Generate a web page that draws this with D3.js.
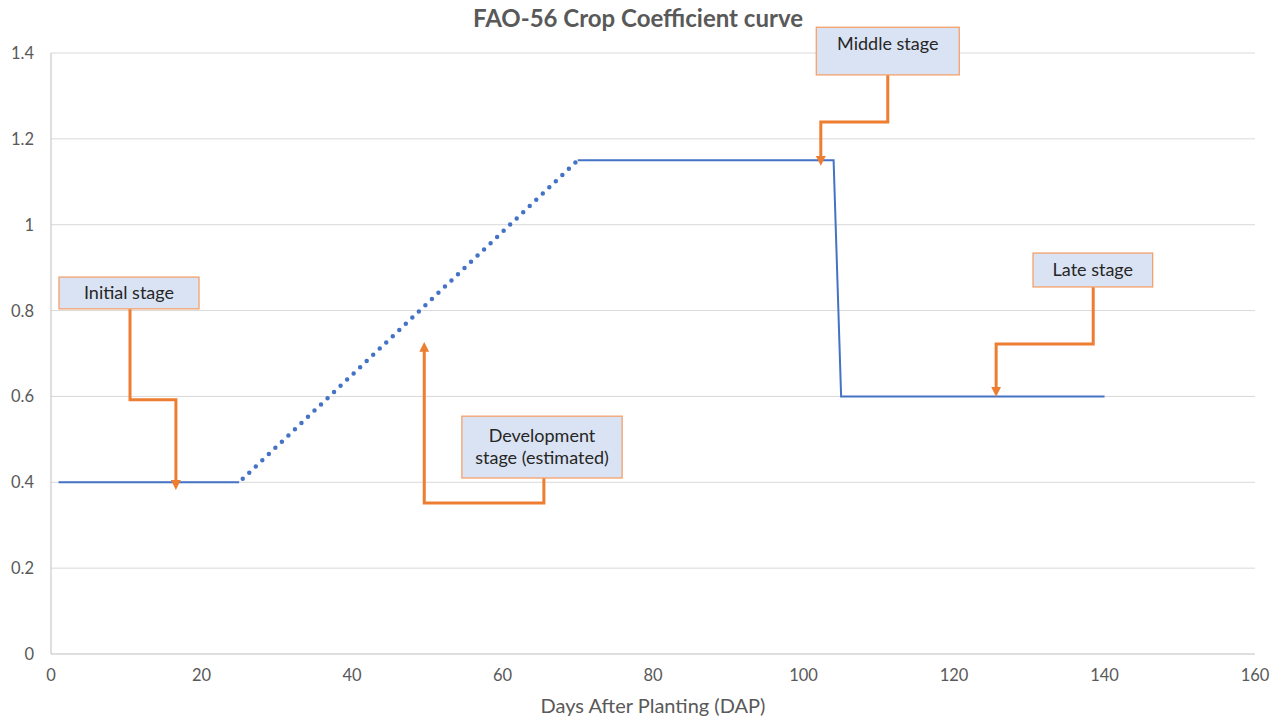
<!DOCTYPE html>
<html>
  <head>
    <meta charset="utf-8"/>
    <style>
body {
  margin: 0;
  background: #fff;
  font-family: Lato, "Open Sans", sans-serif;
}
    </style>
  </head>
  <body>
    <svg id="chart" width="1288" height="722"></svg>
    <script src="https://cdnjs.cloudflare.com/ajax/libs/d3/7.8.5/d3.min.js"></script>
    <script>
// Kc curve pieces (days after planting, Kc)
const initialDays = [1, 25];
const initialKc = [0.4, 0.4];
const devDays = [25, 70];
const devKc = [0.4, 1.15];
const laterDays = [70, 104, 105, 140];
const laterKc = [1.15, 1.15, 0.6, 0.6];

const xTicks = [0, 20, 40, 60, 80, 100, 120, 140, 160];
const yTicks = [0, 0.2, 0.4, 0.6, 0.8, 1, 1.2, 1.4];

// callouts: label lines, box corners and elbow connector points, in data units
const callouts = [
  { lines: ["Initial stage"], box: [1.06, 0.878, 19.67, 0.804],
    path: [[10.5, 0.804], [10.5, 0.592], [16.6, 0.592], [16.6, 0.382]] },
  { lines: ["Development", "stage (estimated)"], box: [54.6, 0.554, 75.9, 0.41],
    path: [[65.5, 0.41], [65.5, 0.352], [49.6, 0.352], [49.6, 0.727]] },
  { lines: ["Middle stage"], box: [101.7, 1.46, 120.7, 1.349], top: true,
    path: [[111.2, 1.349], [111.2, 1.239], [102.3, 1.239], [102.3, 1.137]] },
  { lines: ["Late stage"], box: [130.5, 0.934, 146.4, 0.855],
    path: [[138.5, 0.855], [138.5, 0.722], [125.6, 0.722], [125.6, 0.599]] }
];

const svg = d3.select("#chart");
const x = d3.scaleLinear().domain([0, 160]).range([51, 1255]);
const y = d3.scaleLinear().domain([0, 1.4]).range([654, 53]);

// gridlines
svg.append("g")
  .selectAll("line")
  .data(yTicks.slice(1))
  .join("line")
    .attr("x1", x(0)).attr("x2", x(160))
    .attr("y1", d => y(d)).attr("y2", d => y(d))
    .attr("stroke", "#d9d9d9").attr("stroke-width", 1);

// axes lines
svg.append("line")
  .attr("x1", x(0)).attr("x2", x(0)).attr("y1", y(0)).attr("y2", y(1.4))
  .attr("stroke", "#bfbfbf");
svg.append("line")
  .attr("x1", x(0)).attr("x2", x(160)).attr("y1", y(0)).attr("y2", y(0))
  .attr("stroke", "#bfbfbf");

// tick labels
svg.append("g")
  .selectAll("text")
  .data(yTicks)
  .join("text")
    .attr("x", 34)
    .attr("y", d => y(d) + 6)
    .attr("text-anchor", "end")
    .attr("font-size", 16.5)
    .attr("fill", "#595959")
    .text(d => d);
svg.append("g")
  .selectAll("text")
  .data(xTicks)
  .join("text")
    .attr("x", d => x(d))
    .attr("y", 681)
    .attr("text-anchor", "middle")
    .attr("font-size", 16.5)
    .attr("fill", "#595959")
    .text(d => d);

svg.append("text")
  .attr("x", 653).attr("y", 713)
  .attr("text-anchor", "middle")
  .attr("font-size", 20)
  .attr("fill", "#595959")
  .text("Days After Planting (DAP)");

svg.append("text")
  .attr("x", 638).attr("y", 27)
  .attr("text-anchor", "middle")
  .attr("font-size", 24)
  .attr("font-weight", "bold")
  .attr("fill", "#595959")
  .text("FAO-56 Crop Coefficient curve");

// the curve
const line = d3.line().x(d => x(d[0])).y(d => y(d[1]));
const blue = "#4472c4";
svg.append("path")
  .attr("d", line(d3.zip(initialDays, initialKc)))
  .attr("fill", "none").attr("stroke", blue).attr("stroke-width", 2);
svg.append("path")
  .attr("d", line(d3.zip(devDays, devKc)))
  .attr("fill", "none").attr("stroke", blue).attr("stroke-width", 4.5)
  .attr("stroke-linecap", "round")
  .attr("stroke-dasharray", "0 9")
  .attr("stroke-dashoffset", -5);
svg.append("path")
  .attr("d", line(d3.zip(laterDays, laterKc)))
  .attr("fill", "none").attr("stroke", blue).attr("stroke-width", 2);

// callouts
const orange = "#ed7d31";
svg.append("defs").append("marker")
    .attr("id", "arrow")
    .attr("viewBox", "0 0 10 10")
    .attr("refX", 5).attr("refY", 5)
    .attr("markerWidth", 3.3).attr("markerHeight", 3.3)
    .attr("markerUnits", "strokeWidth")
    .attr("orient", "auto")
  .append("path")
    .attr("d", "M0,0 L10,5 L0,10 z")
    .attr("fill", orange);

callouts.forEach(c => {
  const [x0, y0, x1, y1] = c.box;
  // shorten last segment so the arrow tip lands at the end point
  const pts = c.path.map(p => [x(p[0]), y(p[1])]);
  const n = pts.length;
  const dir = Math.sign(pts[n - 1][1] - pts[n - 2][1]);
  const shortPts = pts.slice();
  shortPts[n - 1] = [pts[n - 1][0], pts[n - 1][1] - dir * 5];
  svg.append("path")
    .attr("d", d3.line()(shortPts))
    .attr("fill", "none")
    .attr("stroke", orange)
    .attr("stroke-width", 3)
    .attr("marker-end", "url(#arrow)");

  svg.append("rect")
    .attr("x", x(x0)).attr("y", y(y0))
    .attr("width", x(x1) - x(x0)).attr("height", y(y1) - y(y0))
    .attr("fill", "#dae3f3")
    .attr("stroke", "#f4a16c").attr("stroke-width", 1.3);

  const cx = (x(x0) + x(x1)) / 2;
  const lh = 22;
  const h = y(y1) - y(y0);
  const startY = c.top ? y(y0) + 23 : y(y0) + h / 2 - (c.lines.length - 1) * lh / 2 + 6;
  c.lines.forEach((t, i) => {
    svg.append("text")
      .attr("x", cx).attr("y", startY + i * lh)
      .attr("text-anchor", "middle")
      .attr("font-size", 18)
      .attr("fill", "#262626")
      .text(t);
  });
});
    </script>
  </body>
</html>
